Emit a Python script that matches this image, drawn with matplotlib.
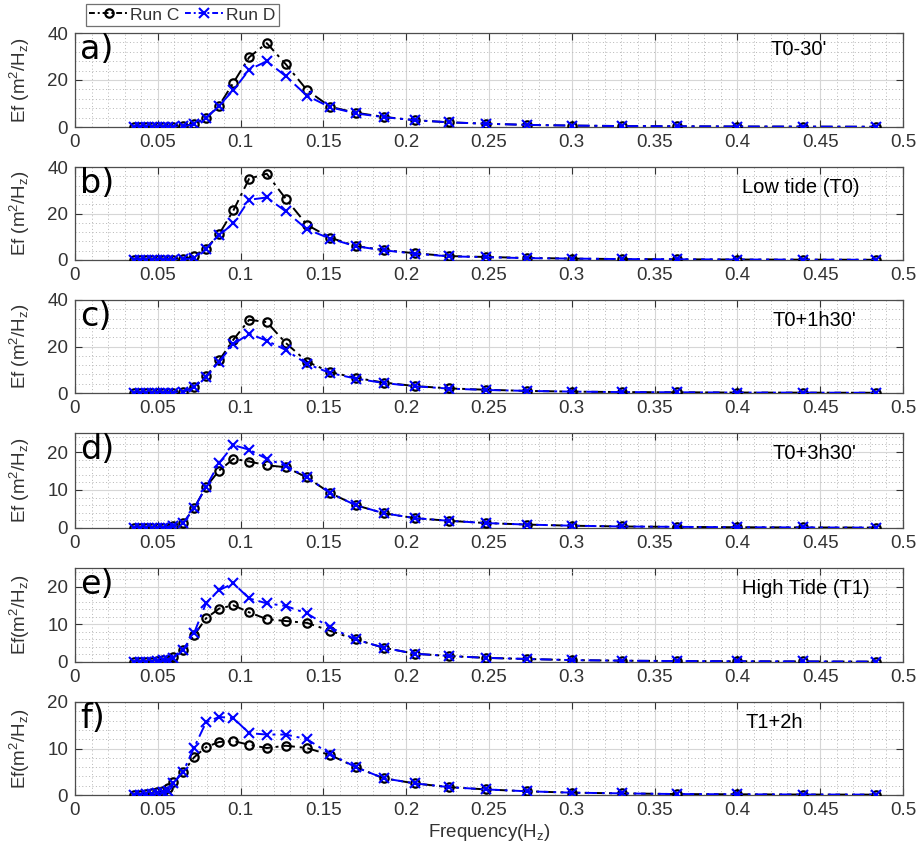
import matplotlib
matplotlib.use("Agg")
import matplotlib.pyplot as plt
from matplotlib.ticker import AutoMinorLocator, FuncFormatter
from matplotlib.lines import Line2D

plt.rcParams['font.family'] = ['Liberation Sans', 'DejaVu Sans']
plt.rcParams['mathtext.default'] = 'regular'

# ---------------- data ----------------
freq = [0.0357, 0.0392, 0.0427, 0.0462, 0.0497, 0.0530, 0.0562, 0.0594,
        0.0653, 0.0719, 0.0791, 0.0870, 0.0957, 0.1052, 0.1158, 0.1273,
        0.1401, 0.1541, 0.1695, 0.1864, 0.2051, 0.2256, 0.2481, 0.2729,
        0.3002, 0.3302, 0.3633, 0.3996, 0.4395, 0.4835]

a_C = [0, 0, 0, 0, 0, 0, 0.05, 0.1, 0.3, 1.4, 3.7, 9.1, 18.9, 29.7, 35.7, 26.7,
       15.7, 8.6, 6.1, 4.3, 2.9, 2.0, 1.4, 0.9, 0.6, 0.4, 0.3, 0.2, 0.15, 0.1]
a_D = [0, 0, 0, 0, 0, 0, 0.05, 0.1, 0.3, 1.2, 3.7, 9.1, 15.7, 24.4, 28.0, 21.6,
       13.3, 8.4, 5.8, 4.2, 2.9, 2.0, 1.4, 0.9, 0.6, 0.4, 0.3, 0.2, 0.15, 0.1]
b_C = [0, 0, 0, 0, 0, 0, 0.05, 0.1, 0.3, 1.7, 4.9, 11.1, 21.4, 35.0, 37.1, 26.3,
       15.1, 9.6, 6.0, 4.3, 2.9, 1.7, 1.3, 0.9, 0.6, 0.4, 0.3, 0.2, 0.15, 0.1]
b_D = [0, 0, 0, 0, 0, 0, 0.05, 0.1, 0.3, 0.8, 4.9, 10.6, 15.8, 25.9, 26.9, 20.9,
       13.2, 9.2, 5.9, 4.2, 2.7, 1.6, 1.2, 0.8, 0.6, 0.4, 0.3, 0.2, 0.15, 0.1]
c_C = [0, 0, 0, 0, 0, 0, 0.05, 0.1, 0.6, 2.6, 7.2, 14.0, 23.0, 31.5, 30.5, 21.5,
       13.5, 9.0, 6.5, 4.5, 3.0, 2.0, 1.4, 0.9, 0.6, 0.4, 0.3, 0.2, 0.15, 0.1]
c_D = [0, 0, 0, 0, 0, 0, 0.05, 0.1, 0.5, 2.4, 7.0, 13.5, 21.0, 25.5, 22.5, 18.5,
       12.5, 8.6, 6.2, 4.3, 2.9, 1.9, 1.3, 0.9, 0.6, 0.4, 0.3, 0.2, 0.15, 0.1]
d_C = [0, 0, 0, 0, 0, 0, 0.1, 0.4, 1.3, 5.2, 10.8, 15.1, 18.2, 17.5, 16.5, 16.0,
       13.3, 9.2, 6.0, 3.9, 2.6, 1.9, 1.3, 0.9, 0.6, 0.4, 0.3, 0.2, 0.15, 0.1]
d_D = [0, 0, 0, 0, 0, 0, 0.1, 0.4, 1.3, 5.2, 10.8, 17.1, 21.8, 20.6, 18.2, 16.4,
       13.3, 9.2, 6.0, 3.9, 2.6, 1.9, 1.3, 0.9, 0.6, 0.4, 0.3, 0.2, 0.15, 0.1]
e_C = [0, 0, 0.05, 0.1, 0.2, 0.4, 0.6, 1.2, 3.3, 7.1, 11.6, 14.2, 15.1, 13.2, 11.4, 10.9,
       10.4, 8.3, 6.0, 3.8, 2.2, 1.6, 1.1, 0.8, 0.5, 0.35, 0.25, 0.2, 0.15, 0.1]
e_D = [0, 0, 0.05, 0.1, 0.2, 0.4, 0.6, 1.1, 3.3, 7.7, 15.6, 19.1, 20.9, 16.9, 15.6, 14.9,
       12.9, 9.2, 6.0, 3.8, 2.2, 1.6, 1.1, 0.8, 0.5, 0.35, 0.25, 0.2, 0.15, 0.1]
f_C = [0.05, 0.1, 0.2, 0.4, 0.6, 0.9, 1.5, 2.7, 4.9, 8.1, 10.3, 11.4, 11.6, 10.8, 10.1, 10.6,
       10.1, 8.6, 6.0, 3.6, 2.5, 1.7, 1.2, 0.8, 0.5, 0.35, 0.2, 0.15, 0.1, 0.08]
f_D = [0.05, 0.1, 0.15, 0.3, 0.45, 0.6, 0.9, 2.6, 5.0, 10.2, 15.6, 16.8, 16.5, 13.3, 13.0, 13.0,
       12.0, 8.8, 6.0, 3.6, 2.5, 1.7, 1.2, 0.8, 0.5, 0.35, 0.2, 0.15, 0.1, 0.08]

series_C = [a_C, b_C, c_C, d_C, e_C, f_C]
series_D = [a_D, b_D, c_D, d_D, e_D, f_D]
panel_letters = ['a)', 'b)', 'c)', 'd)', 'e)', 'f)']
panel_titles = ["T0-30'", "Low tide (T0)", "T0+1h30'", "T0+3h30'", "High Tide (T1)", "T1+2h"]
ylabels = ['Ef (m$^2$/H$_z$)'] * 4 + ['Ef(m$^2$/H$_z$)'] * 2
y_max = [40, 40, 40, 25, 25, 20]
y_ticks = [[0, 20, 40]] * 3 + [[0, 10, 20]] * 3
x_ticks = [0, 0.05, 0.1, 0.15, 0.2, 0.25, 0.3, 0.35, 0.4, 0.45, 0.5]
legend_labels = ['Run C', 'Run D']
xlabel = 'Frequency(H$_z$)'

# ---------------- layout ----------------
W, H = 918, 851
fig = plt.figure(figsize=(W / 100, H / 100), dpi=100)
tops = [33, 167, 300, 433, 568, 702]
bots = [127, 260, 393, 528, 662, 795]
left_px, right_px = 75, 903
title_x = [0.420, 0.403, 0.421, 0.421, 0.403, 0.405]
title_y = [0.82, 0.78, 0.78, 0.78, 0.78, 0.78]

tick_col = '#333333'
dashdot = (0, (6, 2.5, 1.5, 2.5))
fmt = FuncFormatter(lambda v, p: ('%g' % round(v, 4)))

style_C = dict(color='black', linestyle=dashdot, linewidth=1.4, marker='o',
               markersize=6, markerfacecolor='none', markeredgewidth=1.6)
style_D = dict(color='#0000ff', linestyle=dashdot, linewidth=1.4, marker='x',
               markersize=6.5, markeredgewidth=1.5)

for i in range(6):
    ax = fig.add_axes([left_px / W, 1 - bots[i] / H, (right_px - left_px) / W,
                       (bots[i] - tops[i]) / H])
    ax.plot(freq, series_C[i], zorder=3, **style_C)
    ax.plot(freq, series_D[i], zorder=4, **style_D)
    ax.set_xlim(0, 0.5)
    ax.set_ylim(0, y_max[i])
    ax.set_xticks(x_ticks)
    ax.set_yticks(y_ticks[i])
    ax.xaxis.set_major_formatter(fmt)
    ax.xaxis.set_minor_locator(AutoMinorLocator(5))
    ax.yaxis.set_minor_locator(AutoMinorLocator(5))
    ax.grid(True, which='major', color='#d6d6d6', linewidth=0.8, zorder=0)
    ax.grid(True, which='minor', color='#b5b5b5', linewidth=0.7,
            linestyle=(0, (1, 2.5)), zorder=0)
    ax.set_axisbelow(True)
    ax.tick_params(axis='both', which='major', direction='in', length=5,
                   width=0.8, colors=tick_col, labelsize=13.5,
                   top=True, right=True)
    ax.tick_params(axis='x', which='major', pad=5)
    ax.tick_params(axis='y', which='major', pad=5)
    ax.tick_params(axis='both', which='minor', length=0)
    for s in ax.spines.values():
        s.set_color('#4d4d4d')
        s.set_linewidth(0.9)
    ax.set_ylabel(ylabels[i], fontsize=13.5, color=tick_col)
    ax.yaxis.set_label_coords(-0.052, 0.5)
    ax.text(0.006, 0.995, panel_letters[i], transform=ax.transAxes,
            ha='left', va='top', fontsize=24, family='DejaVu Sans',
            color='black', zorder=6)
    ax.text(title_x[i], title_y[i], panel_titles[i], transform=ax.get_xaxis_transform(),
            ha='left', va='center', fontsize=14.5, color='black', zorder=6)
    if i == 5:
        ax.set_xlabel(xlabel, fontsize=13.5, color=tick_col, labelpad=2)

leg_dash = (0, (3, 1.5, 1, 1.5))
handles = [Line2D([], [], **dict(style_C, linestyle=leg_dash)),
           Line2D([], [], **dict(style_D, linestyle=leg_dash))]
leg = fig.legend(handles, legend_labels, loc='lower left',
                 bbox_to_anchor=(86 / W, 1 - 26 / H), ncol=2, fontsize=12.5,
                 frameon=True, fancybox=False, edgecolor='#4d4d4d',
                 handlelength=2.2, handletextpad=0.15, columnspacing=0.3,
                 borderpad=0.2, borderaxespad=0.0)
leg.get_frame().set_linewidth(0.9)
for t in leg.get_texts():
    t.set_color(tick_col)

fig.savefig('out.png', dpi=100)
